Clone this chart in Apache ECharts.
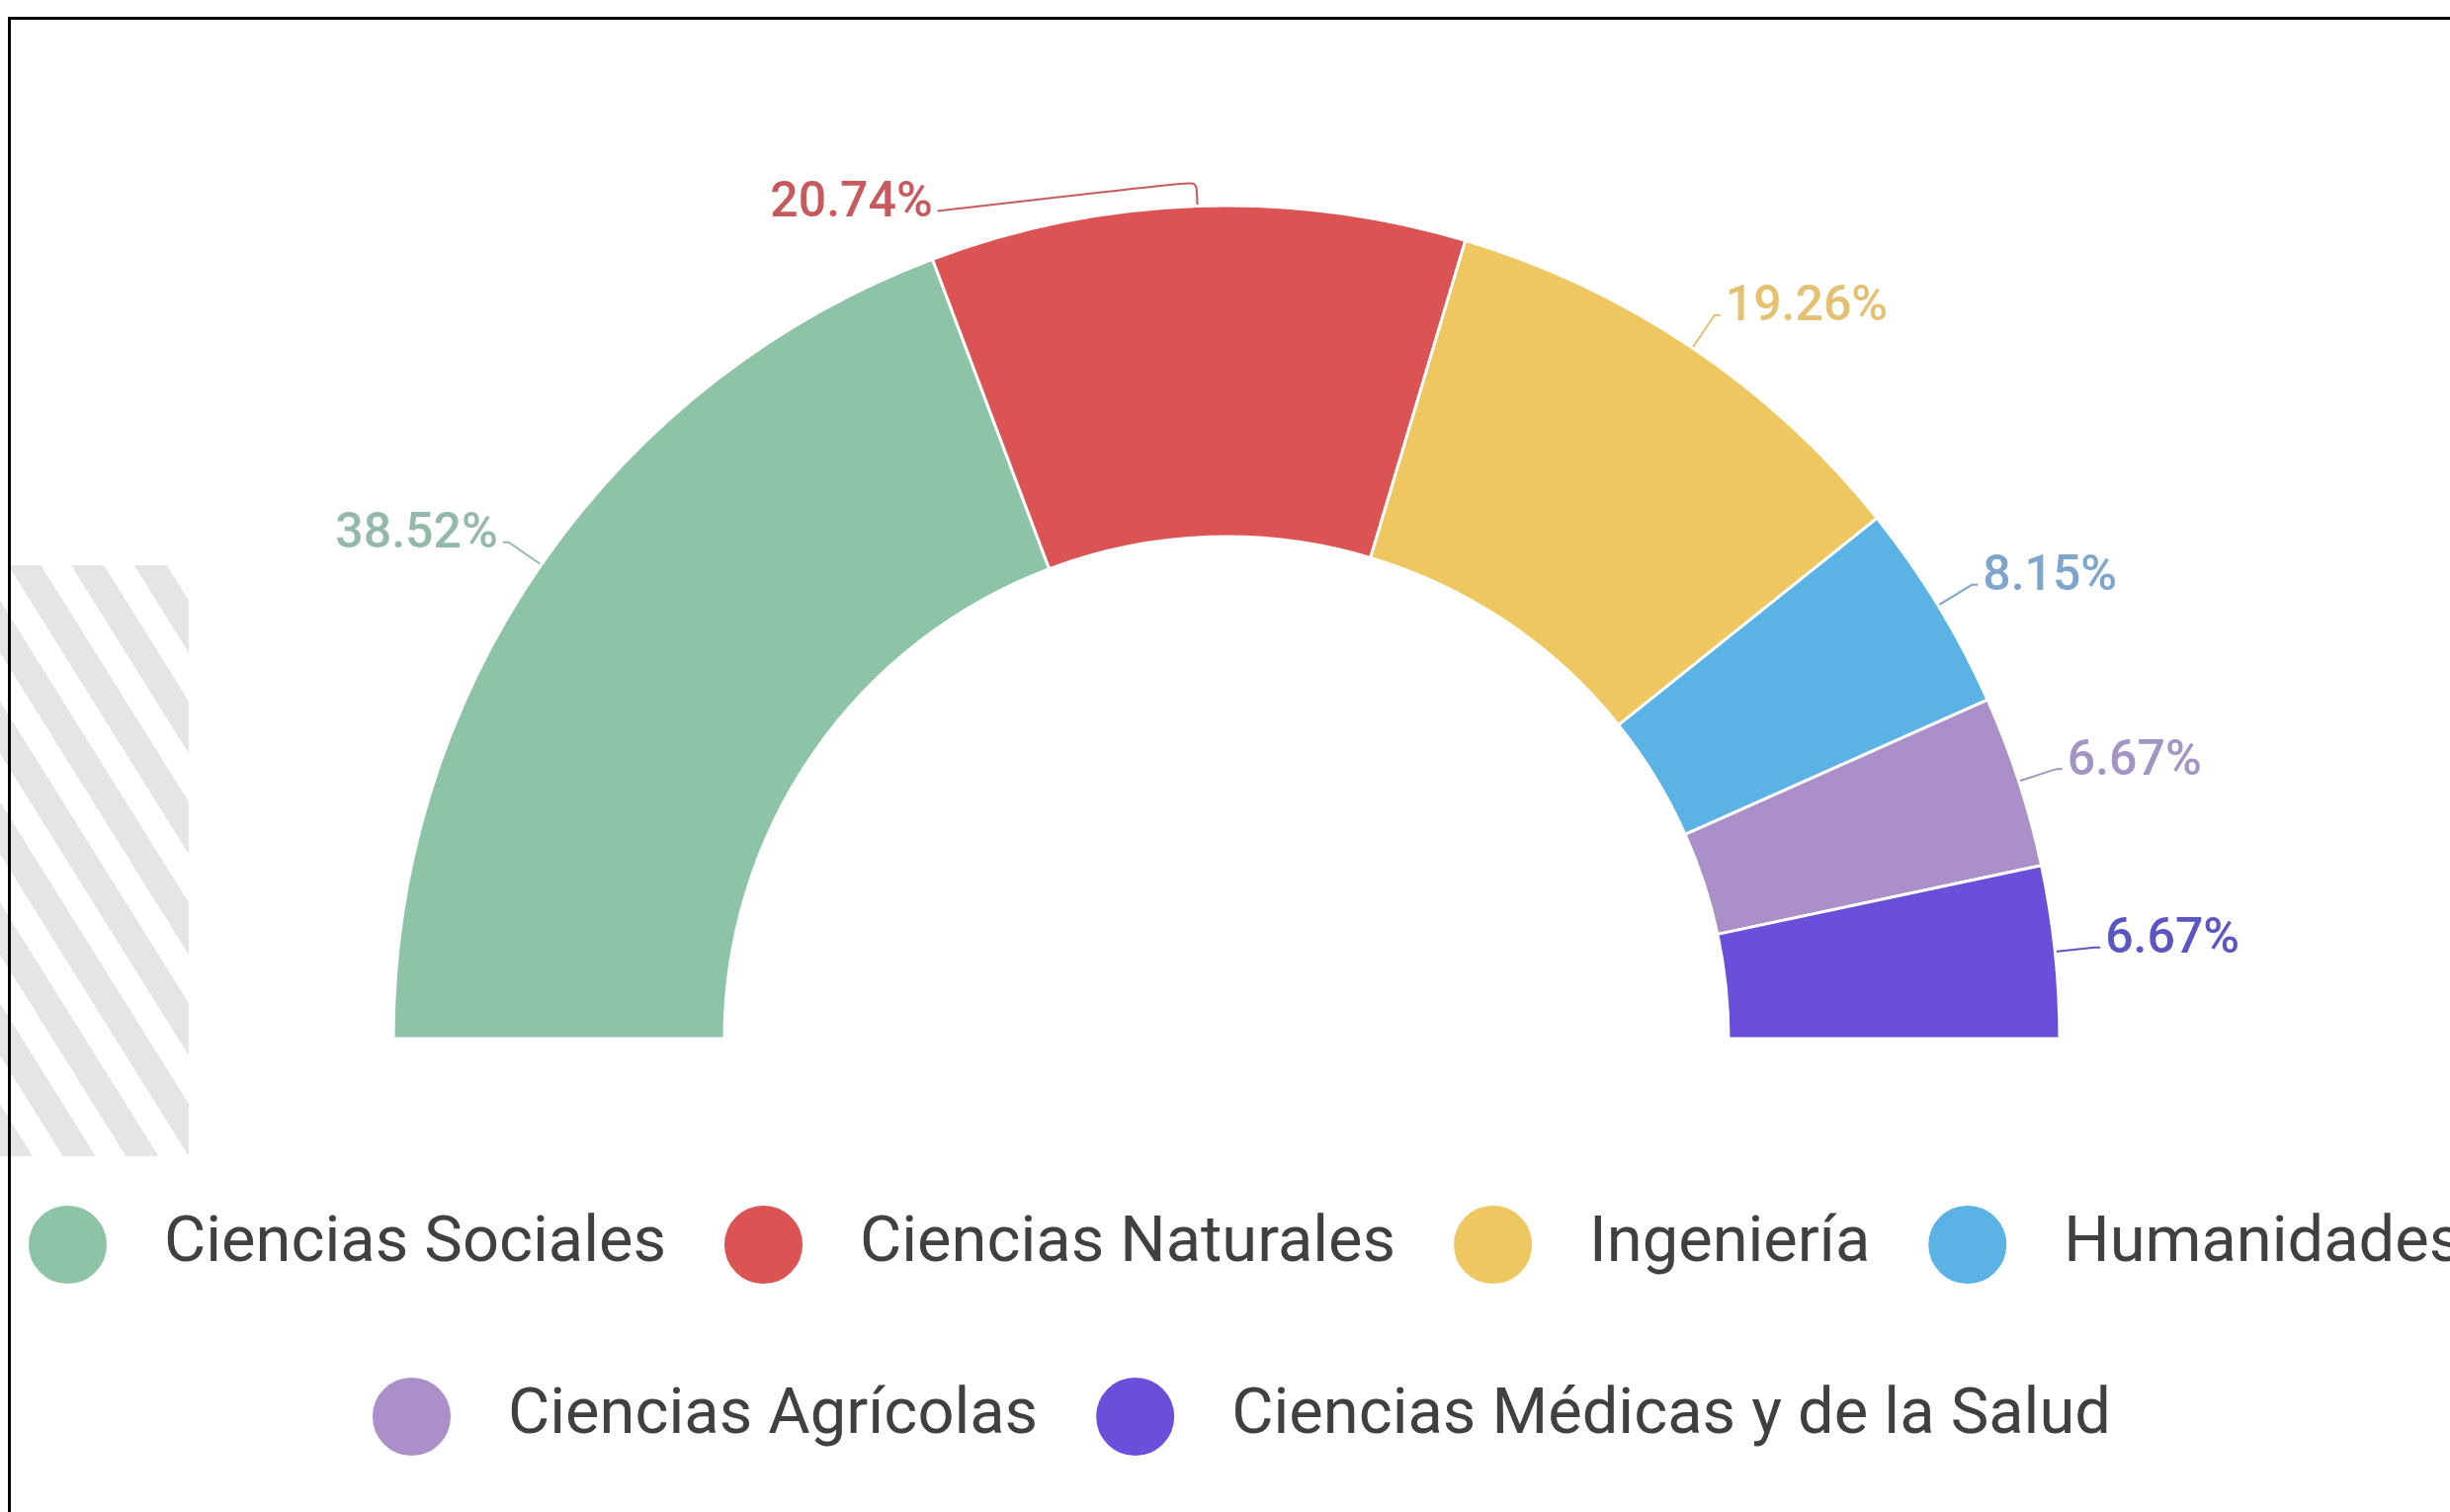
<!DOCTYPE html>
<html>
<head>
<meta charset="utf-8">
<script src="https://cdn.jsdelivr.net/npm/echarts@6/dist/echarts.min.js"></script>
<style>
  html, body { margin: 0; padding: 0; background: #fff; overflow: hidden; }
  #deco {
    position: absolute; left: 0; top: 572px; width: 191px; height: 598px;
    background: repeating-linear-gradient(58deg, #e5e5e5 0 28px, transparent 28px 54px);
  }
  #frame {
    position: absolute; left: 8px; top: 17px; width: 3000px; height: 3000px;
    border-left: 3px solid #000; border-top: 3px solid #000; pointer-events: none;
  }
  #main { position: absolute; left: 0; top: 0; width: 2479px; height: 1530px; }
</style>
</head>
<body>
<div id="deco"></div>
<div id="main"></div>
<div id="frame"></div>
<script>
// areas of knowledge and counts (shares out of 135)
const categories = ['Ciencias Sociales', 'Ciencias Naturales', 'Ingeniería', 'Humanidades', 'Ciencias Agrícolas', 'Ciencias Médicas y de la Salud']
const counts = [52, 28, 26, 11, 9, 9]
const colors = ['#8dc3a7', '#dc5353', '#efc761', '#5ab3e4', '#ab8fc8', '#6a4fda']
const labelColors = ['#93b9a8', '#c65a5c', '#e5c070', '#7ea5cc', '#a394c6', '#5c55c4']
const legendRow1 = categories.slice(0, 4)
const legendRow2 = categories.slice(4)

const total = counts.reduce((a, b) => a + b, 0)

const myChart = echarts.init(document.getElementById('main'))

const pieData = categories.map((name, i) => {
  const item = {
    name,
    value: counts[i],
    itemStyle: { color: colors[i] },
    label: { color: labelColors[i] },
    labelLine: { lineStyle: { color: labelColors[i] } }
  }
  // the top slice has a long leader line to the left
  if (i === 1) {
    item.labelLine.length = 25
    item.labelLine.length2 = 262
    item.labelLine.smooth = 0.2
  }
  return item
})

const legendText = {
  fontFamily: 'Roboto',
  fontSize: 65,
  color: '#404040',
  padding: [0, 0, 0, 52]
}

const option = {
  backgroundColor: 'transparent',
  animation: false,
  legend: [
    {
      data: legendRow1,
      left: 27,
      top: 1218,
      width: 3000,
      padding: 0,
      icon: 'circle',
      itemWidth: 81,
      itemHeight: 82,
      itemGap: 57,
      textStyle: legendText
    },
    {
      data: legendRow2,
      left: 375,
      top: 1392,
      width: 3000,
      padding: 0,
      icon: 'circle',
      itemWidth: 81,
      itemHeight: 82,
      itemGap: 57,
      textStyle: legendText
    }
  ],
  series: [
    {
      type: 'pie',
      startAngle: 180,
      endAngle: 0,
      center: [1241, 1051],
      radius: [508, 843],
      avoidLabelOverlap: false,
      itemStyle: {
        borderColor: '#fff',
        borderWidth: 3
      },
      label: {
        show: true,
        position: 'outside',
        formatter(p) {
          // empty second line lifts the number so it sits on the leader line end
          return '{v|' + (p.value / total * 100).toFixed(2) + '%}\n{s| }'
        },
        rich: {
          v: { fontFamily: 'Roboto', fontSize: 50, fontWeight: 500, lineHeight: 50 },
          s: { fontSize: 10, lineHeight: 14 }
        }
      },
      labelLine: {
        show: true,
        length: 40,
        length2: 6,
        lineStyle: { width: 2 }
      },
      labelLayout(params) {
        if (params.dataIndex !== 1 || !params.labelLinePoints) return {}
        const pts = params.labelLinePoints
        return {
          dy: 30,
          labelLinePoints: [pts[0], pts[1], [pts[2][0], pts[2][1] + 30]]
        }
      },
      emphasis: { disabled: true },
      data: pieData
    }
  ]
}
myChart.setOption(option)
</script>
</body>
</html>
